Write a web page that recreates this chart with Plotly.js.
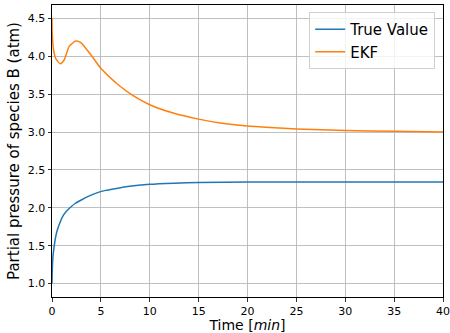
<!DOCTYPE html>
<html><head><meta charset="utf-8">
<script src="https://cdn.plot.ly/plotly-3.0.1.min.js"></script>
<style>html,body{margin:0;padding:0;background:#fff}#plot{width:450px;height:333px}</style>
</head><body><div id="plot"></div>
<script>
const trueT = [0, 0.04, 0.1, 0.21, 0.35, 0.55, 0.8, 1.07, 1.45, 1.92, 2.4, 2.95, 3.7, 4.66, 5.5, 6.37, 7.74, 10, 12.5, 15, 20, 25, 30, 35, 40];
const trueV = [1.0, 1.22, 1.36, 1.48, 1.60, 1.71, 1.80, 1.88, 1.95, 2.01, 2.06, 2.10, 2.15, 2.20, 2.23, 2.25, 2.28, 2.31, 2.325, 2.333, 2.34, 2.342, 2.342, 2.342, 2.342];
const ekfT = [0, 0.02, 0.14, 0.38, 0.85, 1.24, 1.76, 2.43, 2.95, 3.97, 5.0, 6.71, 8.3, 10, 12.4, 15, 17.2, 20, 22.3, 25, 30, 35, 40];
const ekfV = [4.50, 4.32, 4.10, 3.97, 3.90, 3.95, 4.13, 4.20, 4.18, 4.02, 3.84, 3.63, 3.48, 3.36, 3.25, 3.17, 3.12, 3.08, 3.06, 3.04, 3.02, 3.01, 3.00];

const traces = [
  {x: trueT, y: trueV, mode: 'lines', name: 'True Value', line: {color: '#1f77b4', width: 1.5, shape: 'spline', smoothing: 0.5}},
  {x: ekfT, y: ekfV, mode: 'lines', name: 'EKF', line: {color: '#ff7f0e', width: 1.5, shape: 'spline', smoothing: 0.6}}
];
const axisCommon = {
  showline: true, mirror: true, linecolor: '#000', linewidth: 1,
  showgrid: true, gridcolor: '#b0b0b0', gridwidth: 0.8,
  ticks: 'outside', ticklen: 3.5, tickwidth: 0.8, tickcolor: '#000',
  zeroline: false,
  tickfont: {family: 'DejaVu Sans', size: 11, color: '#000'}
};
const layout = {
  width: 450, height: 333,
  margin: {l: 52, r: 7, t: 5, b: 36},
  paper_bgcolor: '#fff', plot_bgcolor: '#fff',
  font: {family: 'DejaVu Sans', color: '#000'},
  xaxis: Object.assign({}, axisCommon, {
    range: [0, 40], tickvals: [0, 5, 10, 15, 20, 25, 30, 35, 40],
    title: {text: 'Time [<i>min</i>]', font: {family: 'DejaVu Sans', size: 14}, standoff: 5}
  }),
  yaxis: Object.assign({}, axisCommon, {
    range: [0.823, 4.676], tickvals: [1.0, 1.5, 2.0, 2.5, 3.0, 3.5, 4.0, 4.5], tickformat: '.1f',
    title: {text: 'Partial pressure of species B (atm)', font: {family: 'DejaVu Sans', size: 15}, standoff: 4}
  }),
  legend: {
    x: 0.98, y: 0.976, xanchor: 'right', yanchor: 'top',
    bgcolor: 'rgba(255,255,255,0.8)', bordercolor: '#d0d0d0', borderwidth: 1,
    font: {family: 'DejaVu Sans', size: 15}
  },
  showlegend: true
};
Plotly.newPlot('plot', traces, layout, {displayModeBar: false, staticPlot: true});
</script></body></html>
